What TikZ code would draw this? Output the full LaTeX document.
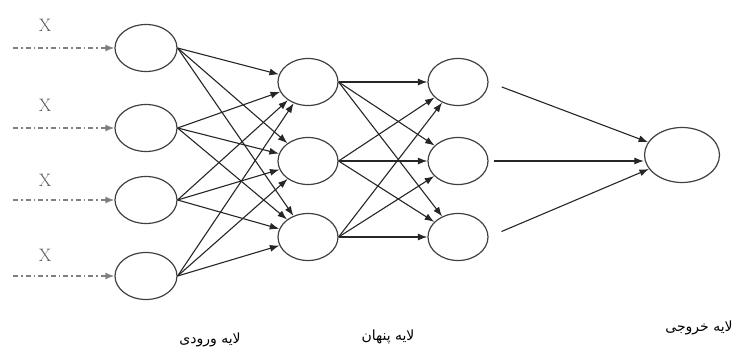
\documentclass[tikz,border=0pt]{standalone}
\usepackage{fontspec}
\newfontfamily\arabicfont[Script=Arabic]{DejaVu Sans}
\TeXXeTstate=1
\usetikzlibrary{arrows.meta,shapes.geometric}
\begin{document}
\begin{tikzpicture}[x=1pt,y=1pt,
  neuron/.style={draw=black!75, line width=1.2pt, ellipse, minimum width=62pt, minimum height=47pt, inner sep=0pt},
  conn/.style={-{Latex[length=9.5pt,width=7pt]}, line width=1.1pt, black!85},
  inarrow/.style={-{Latex[length=9pt,width=7pt]}, line width=1.5pt, black!50, dash pattern=on 5pt off 3pt on 1.5pt off 3pt},
  xlabel/.style={text=black!65, font=\fontsize{18}{18}\selectfont},
  layerlabel/.style={font=\arabicfont\fontsize{14}{15}\selectfont}
]
\useasboundingbox (0,0) rectangle (752,351);
% input layer
\node[neuron] (i1) at (146,303) {};
\node[neuron] (i2) at (146,223) {};
\node[neuron] (i3) at (146,151) {};
\node[neuron] (i4) at (146,75) {};
% hidden layer 1
\node[neuron, minimum width=60pt] (h1) at (308,269) {};
\node[neuron, minimum width=60pt] (h2) at (308,190) {};
\node[neuron, minimum width=60pt] (h3) at (308,114) {};
% hidden layer 2
\node[neuron, minimum width=60pt] (g1) at (458,269) {};
\node[neuron, minimum width=60pt] (g2) at (458,190) {};
\node[neuron, minimum width=60pt] (g3) at (458,114) {};
% output
\node[neuron, minimum width=75pt, minimum height=55pt] (o) at (682,196) {};
% input arrows
\foreach \n/\y in {i1/303, i2/223, i3/151, i4/75} {
  \coordinate (s\n) at (13,\y);
  \draw[inarrow] (s\n) -- (\n.west);
}
\node[xlabel] (x1) at (45,326) {X};
\node[xlabel] (x2) at (45,246) {X};
\node[xlabel] (x3) at (45,171) {X};
\node[xlabel] (x4) at (45,96) {X};
% input -> hidden1
\foreach \a in {i1,i2,i3,i4} {
  \foreach \b in {h1,h2,h3} {
    \draw[conn] (\a.east) -- (\b);
  }
}
% hidden1 -> hidden2
\foreach \a in {h1,h2,h3} {
  \foreach \b in {g1,g2,g3} {
    \draw[conn] (\a.east) -- (\b);
  }
}
% hidden2 -> output
\draw[conn, shorten <=14pt] (g1.east) -- (o);
\draw[conn, shorten <=5pt] (g2.east) -- (o.west |- g2.east);
\draw[conn, shorten <=14pt] (g3.east) -- (o);
% labels
\node[layerlabel] (l1) at (210,11) {\beginR لایه ورودی\endR};
\node[layerlabel] (l2) at (388,14) {\beginR لایه پنهان\endR};
\node[layerlabel] (l3) at (699,23) {\beginR لایه خروجی\endR};
\end{tikzpicture}
\end{document}
